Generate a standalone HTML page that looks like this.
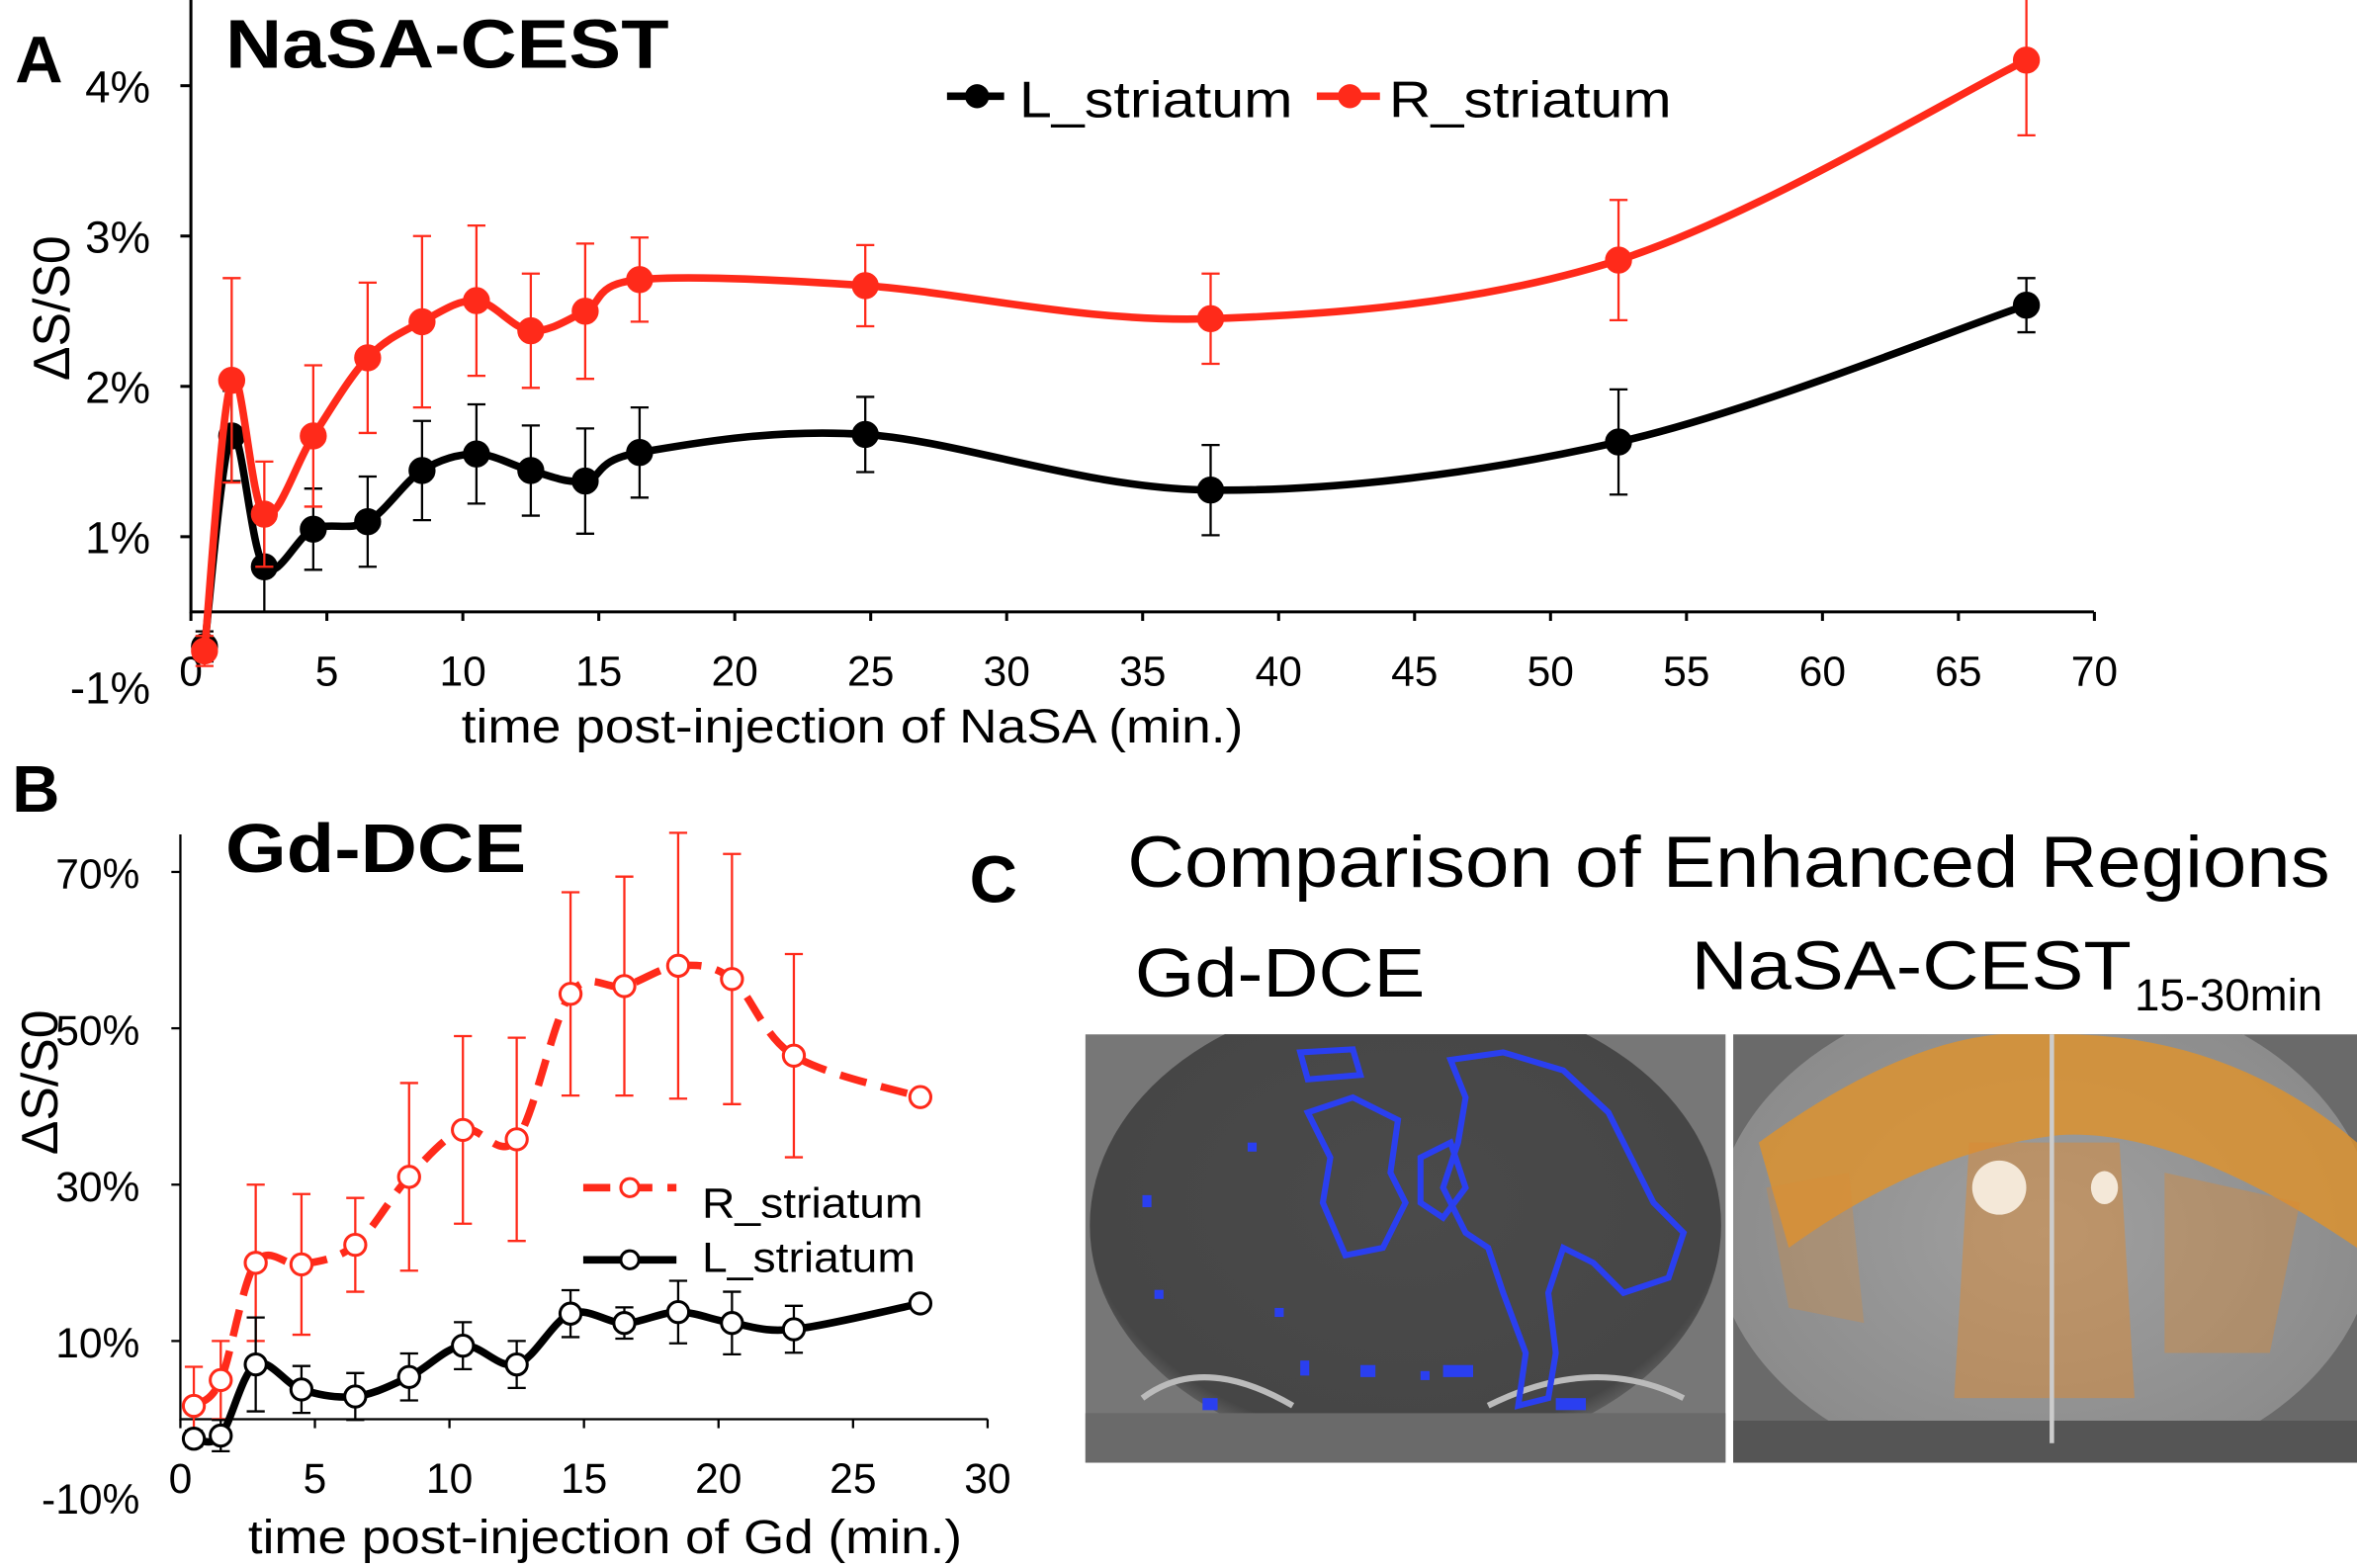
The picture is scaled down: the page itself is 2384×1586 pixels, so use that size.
<!DOCTYPE html>
<html><head><meta charset="utf-8"><style>
html,body{margin:0;padding:0;background:#fff}
svg{display:block}
text{font-family:"Liberation Sans",sans-serif}
</style></head><body>
<svg id="fig" width="2384" height="1586" viewBox="0 0 1568 1043" preserveAspectRatio="none">
<defs>
<radialGradient id="brainG" cx="50%" cy="45%" r="60%"><stop offset="0" stop-color="#4a4a4a"/><stop offset="0.85" stop-color="#464646"/><stop offset="1" stop-color="#8a8a8a"/></radialGradient>
<radialGradient id="brainN" cx="50%" cy="50%" r="60%"><stop offset="0" stop-color="#a0a0a0"/><stop offset="1" stop-color="#888"/></radialGradient>
<clipPath id="clipL"><rect x="722" y="688" width="426" height="285"/></clipPath>
<clipPath id="clipR"><rect x="1153" y="688" width="415" height="285"/></clipPath>
</defs>
<g id="panelA"></g>
<g id="panelB"></g>
<g id="panelC">
  <text x="645" y="600" font-size="44" font-weight="bold">C</text>
  <text x="750" y="590" font-size="48" textLength="800" lengthAdjust="spacingAndGlyphs">Comparison of Enhanced Regions</text>
  <text x="755" y="663" font-size="46" textLength="193" lengthAdjust="spacingAndGlyphs">Gd-DCE</text>
  <text x="1125" y="658" font-size="46"><tspan textLength="293" lengthAdjust="spacingAndGlyphs">NaSA-CEST</tspan><tspan font-size="30" dy="14" x="1420">15-30min</tspan></text>
  <g clip-path="url(#clipL)">
    <rect x="722" y="688" width="426" height="285" fill="#777"/>
    <ellipse cx="935" cy="815" rx="210" ry="155" fill="url(#brainG)"/>
    <rect x="722" y="940" width="426" height="33" fill="#6a6a6a"/>
    <path d="M760 930 Q800 900 860 935 M990 935 Q1060 900 1120 930" stroke="#bbb" stroke-width="4" fill="none"/>
    <g stroke="#2a3ff0" stroke-width="4" fill="none">
      <path d="M865 700 L900 698 L905 715 L870 718 Z"/>
      <path d="M965 705 L1000 700 L1040 712 L1070 740 L1085 770 L1100 800 L1120 820 L1110 850 L1080 860 L1060 840 L1040 830 L1030 860 L1035 900 L1030 930 L1010 935 L1015 900 L1000 860 L990 830 L975 820 L960 790 L970 760 L975 730 Z"/>
      <path d="M870 740 L900 730 L930 745 L925 780 L935 800 L920 830 L895 835 L880 800 L885 770 Z"/>
      <path d="M945 770 L965 760 L975 790 L960 810 L945 800 Z"/>
    </g>
    <g fill="#2a3ff0">
      <rect x="760" y="795" width="6" height="8"/><rect x="768" y="858" width="6" height="6"/><rect x="800" y="930" width="10" height="8"/><rect x="865" y="905" width="6" height="10"/><rect x="905" y="908" width="10" height="8"/><rect x="945" y="912" width="6" height="6"/><rect x="960" y="908" width="20" height="8"/><rect x="848" y="870" width="6" height="6"/><rect x="830" y="760" width="6" height="6"/><rect x="1035" y="930" width="20" height="8"/>
    </g>
  </g>
  <g clip-path="url(#clipR)">
    <rect x="1153" y="688" width="415" height="285" fill="#6a6a6a"/>
    <ellipse cx="1360" cy="820" rx="220" ry="165" fill="url(#brainN)"/>
    <path d="M1170 760 Q1280 680 1360 688 Q1480 685 1568 760 L1568 830 Q1450 750 1370 755 Q1280 765 1190 830 Z" fill="#e0922a" opacity="0.8"/>
    <path d="M1310 760 L1410 760 L1420 930 L1300 930 Z" fill="#d98a35" opacity="0.5"/>
    <path d="M1440 780 L1530 800 L1510 900 L1440 900 Z" fill="#d98a35" opacity="0.4"/>
    <path d="M1175 790 L1230 780 L1240 880 L1190 870 Z" fill="#d98a35" opacity="0.3"/>
    <ellipse cx="1330" cy="790" rx="18" ry="18" fill="#f4e8d8"/>
    <ellipse cx="1400" cy="790" rx="9" ry="11" fill="#f4e8d8"/>
    <rect x="1153" y="945" width="415" height="28" fill="#555"/>
    <path d="M1365 688 L1365 960" stroke="#ccc" stroke-width="3"/>
  </g>
  <rect x="1148" y="688" width="5" height="285" fill="#fff"/>
</g>
</svg>
<script>
// ---- Panel A data ----
const aTimes = [0.5, 1.5, 2.7, 4.5, 6.5, 8.5, 10.5, 12.5, 14.5, 16.5, 24.8, 37.5, 52.5, 67.5];
const aLeft = [0.27, 1.67, 0.8, 1.05, 1.1, 1.44, 1.55, 1.44, 1.37, 1.56, 1.68, 1.31, 1.63, 2.54];
const aLeftErr = [0.1, 0.3, 0.3, 0.27, 0.3, 0.33, 0.33, 0.3, 0.35, 0.3, 0.25, 0.3, 0.35, 0.18];
const aRight = [0.24, 2.04, 1.15, 1.67, 2.19, 2.43, 2.57, 2.37, 2.5, 2.71, 2.67, 2.45, 2.84, 4.17];
const aRightErr = [0.1, 0.68, 0.35, 0.47, 0.5, 0.57, 0.5, 0.38, 0.45, 0.28, 0.27, 0.3, 0.4, 0.5];
const aXTicks = [0, 5, 10, 15, 20, 25, 30, 35, 40, 45, 50, 55, 60, 65, 70];
const aYTickVals = [0, 1, 2, 3, 4];
const aYTickLabels = ["-1%", "1%", "2%", "3%", "4%"];
// ---- Panel B data ----
const bTimes = [0.5, 1.5, 2.8, 4.5, 6.5, 8.5, 10.5, 12.5, 14.5, 16.5, 18.5, 20.5, 22.8, 27.5];
const bRight = [1.7, 5, 20, 19.8, 22.3, 31, 37, 35.8, 54.4, 55.4, 58, 56.3, 46.5, 41.2];
const bRightErr = [5, 5, 10, 9, 6, 12, 12, 13, 13, 14, 17, 16, 13, 0];
const bLeft = [-2.5, -2.1, 7, 3.8, 2.9, 5.4, 9.4, 7, 13.5, 12.3, 13.7, 12.3, 11.5, 14.8];
const bLeftErr = [1, 2, 6, 3, 3, 3, 3, 3, 3, 2, 4, 4, 3, 0];
const bXTicks = [0, 5, 10, 15, 20, 25, 30];
const bYTickVals = [-10, 10, 30, 50, 70];
const bYTickLabels = ["-10%", "10%", "30%", "50%", "70%"];

const NS = "http://www.w3.org/2000/svg";
function mk(parent, tag, attrs, text) {
  const e = document.createElementNS(NS, tag);
  for (const k in attrs) e.setAttribute(k, attrs[k]);
  if (text !== undefined) e.textContent = text;
  parent.appendChild(e);
  return e;
}
function smooth(pts) {
  let d = "M" + pts[0][0] + " " + pts[0][1];
  for (let i = 0; i < pts.length - 1; i++) {
    const p0 = pts[Math.max(0, i - 1)], p1 = pts[i], p2 = pts[i + 1], p3 = pts[Math.min(pts.length - 1, i + 2)];
    const c1x = p1[0] + (p2[0] - p0[0]) / 6, c1y = p1[1] + (p2[1] - p0[1]) / 6;
    const c2x = p2[0] - (p3[0] - p1[0]) / 6, c2y = p2[1] - (p3[1] - p1[1]) / 6;
    d += ` C${c1x} ${c1y} ${c2x} ${c2y} ${p2[0]} ${p2[1]}`;
  }
  return d;
}
function series(g, times, vals, errs, xs, ys, color, width, dash, markerFill, r, nm) {
  const sg = mk(g, "g", {});
  
  
  times.forEach((t, i) => {
    if (!errs[i]) return;
    const x = xs(t), y1 = ys(vals[i] + errs[i]), y2 = ys(vals[i] - errs[i]);
    const eb = mk(sg, "path", { d: `M${x} ${y1}L${x} ${y2}M${x - 6} ${y1}L${x + 6} ${y1}M${x - 6} ${y2}L${x + 6} ${y2}`, stroke: color, "stroke-width": 1.5, fill: "none" });
    
    
  });
  const pts = times.map((t, i) => [xs(t), ys(vals[i])]);
  const ln = mk(sg, "path", { d: smooth(pts), stroke: color, "stroke-width": width, fill: "none", "stroke-dasharray": dash || "none" });
  
  
  pts.forEach(p => {
    const c = mk(sg, "circle", { cx: p[0], cy: p[1], r: r, fill: markerFill, stroke: color, "stroke-width": 2 });
    
    
  });
}
function T(g, attrs, s, len) {
  if (len) { attrs.textLength = len; attrs.lengthAdjust = "spacingAndGlyphs"; }
  return mk(g, "text", attrs, s);
}

// ---- Panel A ----
(function () {
  const g = document.getElementById("panelA");
  const xs = t => 127 + t * 18.09;
  const ys = v => 457 - v * 100;
  let t;
  t = T(g, { x: 10, y: 55, "font-size": 44, "font-weight": "bold" }, "A");
   
  t = T(g, { x: 150, y: 45, "font-size": 46, "font-weight": "bold" }, "NaSA-CEST", 295);
   
  const ax = mk(g, "path", { d: "M127 0 L127 407 L1393 407", stroke: "#000", "stroke-width": 2, fill: "none" });
   
  aXTicks.forEach(v => {
    mk(g, "path", { d: `M${xs(v)} 407 L${xs(v)} 413`, stroke: "#000", "stroke-width": 2 });
    const l = mk(g, "text", { x: xs(v), y: 456, "font-size": 28, "text-anchor": "middle" }, String(v));
     
  });
  aYTickVals.forEach((v, i) => {
    if (v > 0) mk(g, "path", { d: `M120 ${ys(v)} L127 ${ys(v)}`, stroke: "#000", "stroke-width": 2 });
    const l = mk(g, "text", { x: 100, y: ys(v) + 11, "font-size": 30, "text-anchor": "end" }, aYTickLabels[i]);
     
  });
  t = T(g, { x: 307, y: 494, "font-size": 32 }, "time post-injection of NaSA (min.)", 520);
   
  t = mk(g, "text", { x: 0, y: 0, "font-size": 34, "text-anchor": "middle", transform: "translate(46,205) rotate(-90)" }, "ΔS/S0");
   
  series(g, aTimes, aLeft, aLeftErr, xs, ys, "#000", 5, null, "#000", 8, "l-striatum");
  series(g, aTimes, aRight, aRightErr, xs, ys, "#ff2a1a", 5, null, "#ff2a1a", 8, "r-striatum");
  const lg = mk(g, "g", {});
   
  mk(lg, "path", { d: "M630 64 L668 64", stroke: "#000", "stroke-width": 5 });
  mk(lg, "circle", { cx: 650, cy: 64, r: 8, fill: "#000" });
  t = T(lg, { x: 678, y: 78, "font-size": 34 }, "L_striatum", 182);
   
  mk(lg, "path", { d: "M876 64 L918 64", stroke: "#ff2a1a", "stroke-width": 5 });
  mk(lg, "circle", { cx: 898, cy: 64, r: 8, fill: "#ff2a1a" });
  t = T(lg, { x: 924, y: 78, "font-size": 34 }, "R_striatum", 188);
   
})();

// ---- Panel B ----
(function () {
  const g = document.getElementById("panelB");
  const xs = t => 120 + t * 17.9;
  const ys = v => 944 - v * 5.2;
  let t;
  t = T(g, { x: 8, y: 540, "font-size": 44, "font-weight": "bold" }, "B");
   
  t = T(g, { x: 150, y: 580, "font-size": 46, "font-weight": "bold" }, "Gd-DCE", 200);
   
  const ax = mk(g, "path", { d: "M120 555 L120 944 L657 944", stroke: "#000", "stroke-width": 1.5, fill: "none" });
   
  bXTicks.forEach(v => {
    mk(g, "path", { d: `M${xs(v)} 944 L${xs(v)} 950`, stroke: "#000", "stroke-width": 1.5 });
    const l = mk(g, "text", { x: xs(v), y: 993, "font-size": 28, "text-anchor": "middle" }, String(v));
     
  });
  bYTickVals.forEach((v, i) => {
    if (v > 0) mk(g, "path", { d: `M114 ${ys(v)} L120 ${ys(v)}`, stroke: "#000", "stroke-width": 1.5 });
    const l = mk(g, "text", { x: 93, y: ys(v) + 11, "font-size": 28, "text-anchor": "end" }, bYTickLabels[i]);
     
  });
  t = T(g, { x: 165, y: 1033, "font-size": 32 }, "time post-injection of Gd (min.)", 475);
   
  t = mk(g, "text", { x: 0, y: 0, "font-size": 34, "text-anchor": "middle", transform: "translate(38,720) rotate(-90)" }, "ΔS/S0");
   
  series(g, bTimes, bRight, bRightErr, xs, ys, "#ff2a1a", 5, "18 10", "#fff", 7, "r-striatum");
  series(g, bTimes, bLeft, bLeftErr, xs, ys, "#000", 5, null, "#fff", 7, "l-striatum");
  const lg = mk(g, "g", {});
   
  mk(lg, "path", { d: "M388 790 L450 790", stroke: "#ff2a1a", "stroke-width": 5, "stroke-dasharray": "18 10" });
  mk(lg, "circle", { cx: 419, cy: 790, r: 6, fill: "#fff", stroke: "#ff2a1a", "stroke-width": 2 });
  t = T(lg, { x: 467, y: 810, "font-size": 28 }, "R_striatum", 147);
   
  mk(lg, "path", { d: "M388 838 L450 838", stroke: "#000", "stroke-width": 5 });
  mk(lg, "circle", { cx: 419, cy: 838, r: 6, fill: "#fff", stroke: "#000", "stroke-width": 2 });
  t = T(lg, { x: 467, y: 846, "font-size": 28 }, "L_striatum", 142);
   
})();
</script>
</body></html>
